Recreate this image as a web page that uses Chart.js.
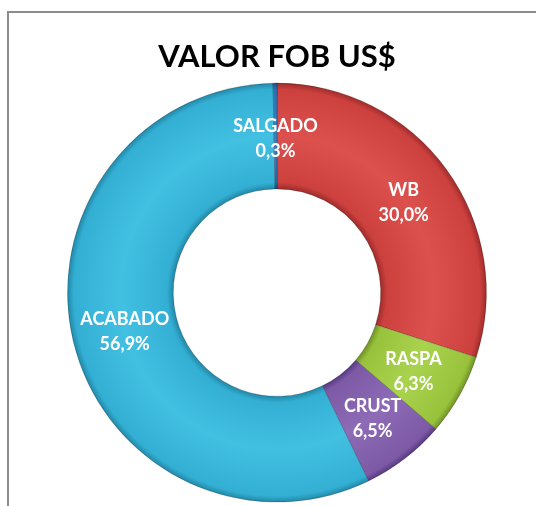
<!DOCTYPE html>
<html lang="pt-BR">
<head>
  <meta charset="UTF-8" />
  <title>Valor FOB US$</title>
  <script src="https://cdn.jsdelivr.net/npm/chart.js"></script>
  <style>
    body {
      margin: 0;
      width: 536px;
      height: 506px;
      overflow: hidden;
      background: #ffffff;
      position: relative;
    }
    #moldura {
      position: absolute;
      left: 7px;
      top: 11px;
      width: 700px;
      height: 700px;
      border: 2px solid #8c8c8c;
    }
    #chartContainer {
      position: absolute;
      left: 0;
      top: 0;
      width: 536px;
      height: 506px;
    }
  </style>
</head>
<body>
  <div id="moldura"></div>
  <div id="chartContainer">
    <canvas id="fobChart"></canvas>
  </div>
  <script>
    const categorias = ["WB", "RASPA", "CRUST", "ACABADO", "SALGADO"];
    const percentuais = [30.0, 6.3, 6.5, 56.9, 0.3];
    const cores = ["#cc403e", "#99c23c", "#7d59a6", "#33afd3", "#2f6fb0"];
    const coresEscuras = ["#9e2c2a", "#6f9226", "#583a80", "#2288a8", "#20508a"];
    const coresClaras = ["#dc514e", "#a9d24e", "#8d6bb6", "#42c0e2", "#3f82c4"];

    // gradiente radial para imitar o bisel do Excel
    function preenchimento(ctx) {
      const chart = ctx.chart;
      const arc = chart.getDatasetMeta(0).data[ctx.dataIndex];
      const i = ctx.dataIndex;
      if (!arc || !arc.outerRadius) return cores[i];
      const g = chart.ctx.createRadialGradient(arc.x, arc.y, arc.innerRadius, arc.x, arc.y, arc.outerRadius);
      g.addColorStop(0, coresEscuras[i]);
      g.addColorStop(0.06, cores[i]);
      g.addColorStop(0.5, coresClaras[i]);
      g.addColorStop(0.94, cores[i]);
      g.addColorStop(1, coresEscuras[i]);
      return g;
    }

    const rotulos = {
      id: "rotulos",
      afterDatasetsDraw(chart) {
        const ctx = chart.ctx;
        const meta = chart.getDatasetMeta(0);
        ctx.save();
        ctx.fillStyle = "#ffffff";
        ctx.font = "bold 18px Lato, 'Open Sans', sans-serif";
        ctx.textAlign = "center";
        ctx.textBaseline = "middle";
        meta.data.forEach((arc, i) => {
          const p = arc.getCenterPoint();
          const valor = percentuais[i].toFixed(1).replace(".", ",") + "%";
          ctx.fillText(categorias[i], p.x, p.y - 10);
          ctx.fillText(valor, p.x, p.y + 15);
        });
        ctx.restore();
      }
    };

    const grafico = new Chart(document.getElementById("fobChart"), {
      type: "doughnut",
      data: {
        labels: categorias,
        datasets: [{
          data: percentuais,
          backgroundColor: preenchimento,
          borderWidth: 1,
          borderColor: "rgba(0,0,0,0.2)"
        }]
      },
      options: {
        responsive: true,
        maintainAspectRatio: false,
        animation: false,
        cutout: "49.5%",
        layout: { padding: { left: 67, right: 49, top: 0, bottom: 3 } },
        plugins: {
          legend: { display: false },
          tooltip: { enabled: false },
          title: {
            display: true,
            text: "VALOR FOB US$",
            color: "#000000",
            font: { family: "Lato, 'Open Sans', sans-serif", size: 31, weight: "bold" },
            padding: { top: 38, bottom: 7 }
          }
        }
      },
      plugins: [rotulos]
    });
    // segunda passagem: os arcos já têm geometria para o gradiente
    grafico.update();
  </script>
</body>
</html>
